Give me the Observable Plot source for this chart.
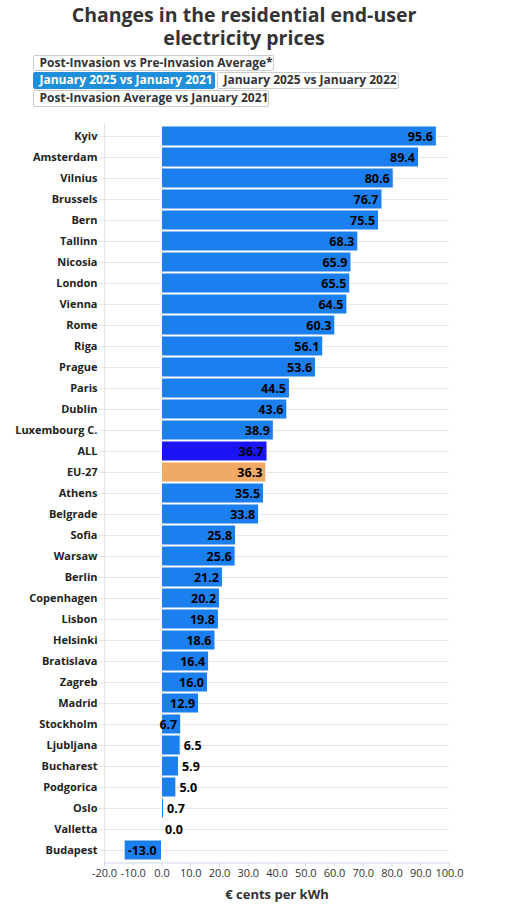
<!DOCTYPE html>
<html>
<head>
<meta charset="utf-8">
<script src="https://cdn.jsdelivr.net/npm/d3@7"></script>
<script src="https://cdn.jsdelivr.net/npm/@observablehq/plot@0.6"></script>
<style>
  html, body { margin: 0; padding: 0; background: white; }
  #wrap { position: relative; width: 510px; height: 909px; font-family: 'Open Sans', sans-serif; }
  .tline { position: absolute; left: 0; width: 488px; text-align: center; font-weight: bold; font-size: 19.5px; line-height: 22px; height: 22px; color: #333; white-space: nowrap; }
  .btn { position: absolute; box-sizing: border-box; height: 16.5px; border: 1px solid #cccccc; border-radius: 2px; background: white; color: #333; font-weight: bold; font-size: 12px; line-height: 14.5px; padding-left: 6px; white-space: nowrap; }
  .btn.sel { background: #1f8fdc; border-color: #1f8fdc; color: white; }
  #chart { position: absolute; left: 0; top: 112px; }
</style>
</head>
<body>
<div id="wrap">
  <div id="title"></div>
  <div id="buttons"></div>
  <div id="chart"></div>
</div>
<script>
const cities = ["Kyiv","Amsterdam","Vilnius","Brussels","Bern","Tallinn","Nicosia","London","Vienna","Rome","Riga","Prague","Paris","Dublin","Luxembourg C.","ALL","EU-27","Athens","Belgrade","Sofia","Warsaw","Berlin","Copenhagen","Lisbon","Helsinki","Bratislava","Zagreb","Madrid","Stockholm","Ljubljana","Bucharest","Podgorica","Oslo","Valletta","Budapest"];
const values = [95.6,89.4,80.6,76.7,75.5,68.3,65.9,65.5,64.5,60.3,56.1,53.6,44.5,43.6,38.9,36.7,36.3,35.5,33.8,25.8,25.6,21.2,20.2,19.8,18.6,16.4,16.0,12.9,6.7,6.5,5.9,5.0,0.7,0.0,-13.0];
const xTicks = [-20,-10,0,10,20,30,40,50,60,70,80,90,100];
const buttonLabels = ["Post-Invasion vs Pre-Invasion Average*","January 2025 vs January 2021","January 2025 vs January 2022","Post-Invasion Average vs January 2021"];
const titleLines = ["Changes in the residential end-user", "electricity prices"];
const axisTitle = "€ cents per kWh";

// title (HTML, above the chart)
const tdiv = document.getElementById("title");
titleLines.forEach((t, i) => {
  const l = document.createElement("div");
  l.className = "tline";
  l.style.top = (4 + i * 23) + "px";
  l.textContent = t;
  tdiv.appendChild(l);
});

// buttons (HTML controls above the chart)
const btnBoxes = [
  {left: 32.5, top: 54.5, width: 241, sel: false},
  {left: 32.5, top: 72.3, width: 182.5, sel: true},
  {left: 216.5, top: 72.3, width: 182, sel: false},
  {left: 32.5, top: 90.1, width: 236, sel: false}
];
const bdiv = document.getElementById("buttons");
buttonLabels.forEach((t, i) => {
  const b = document.createElement("div");
  b.className = "btn" + (btnBoxes[i].sel ? " sel" : "");
  b.style.left = btnBoxes[i].left + "px";
  b.style.top = btnBoxes[i].top + "px";
  b.style.width = btnBoxes[i].width + "px";
  b.textContent = t;
  bdiv.appendChild(b);
});

const data = cities.map((c, i) => ({city: c, value: values[i]}));
const colorOf = d => d.city === "ALL" ? "#1a14f6" : d.city === "EU-27" ? "#f0aa66" : "#1b7fef";

const chart = Plot.plot({
  width: 510,
  height: 797,
  marginTop: 11.5,
  marginBottom: 46.5,
  marginLeft: 104,
  marginRight: 61,
  style: {fontFamily: "'Open Sans', sans-serif", fontSize: "11px", color: "#222", background: "white"},
  x: {domain: [-20, 100]},
  y: {domain: cities, padding: 0.05, label: null},
  marks: [
    Plot.gridY({stroke: "#e6e6e6", strokeOpacity: 1}),
    Plot.barX(data, {x: "value", y: "city", fill: colorOf, stroke: "white", strokeWidth: 1}),
    Plot.frame({anchor: "left", stroke: "#e6e6e6"}),
    Plot.frame({anchor: "bottom", stroke: "#ccd6eb"}),
    Plot.axisY({tickSize: 5, tickPadding: 2, stroke: "#e6e6e6", fill: "#222", fontWeight: "bold", fontSize: 11, label: null}),
    Plot.axisX({ticks: xTicks, tickFormat: d => d.toFixed(1), tickSize: 4, tickPadding: 2, stroke: "#ccd6eb", fill: "#333", fontSize: 11, label: null}),
    Plot.text(data.filter(d => d.value >= 6.6), {x: "value", y: "city", text: d => d.value.toFixed(1), textAnchor: "end", dx: -4, fontWeight: "bold", fontSize: 12.5, fill: "black"}),
    Plot.text(data.filter(d => d.value >= 0 && d.value < 6.6), {x: "value", y: "city", text: d => d.value.toFixed(1), textAnchor: "start", dx: 3, fontWeight: "bold", fontSize: 12.5, fill: "black"}),
    Plot.text(data.filter(d => d.value < 0), {x: "value", y: "city", text: d => d.value.toFixed(1), textAnchor: "start", dx: 3, fontWeight: "bold", fontSize: 12.5, fill: "black"}),
    Plot.text([axisTitle], {frameAnchor: "bottom", dy: 35.5, fontWeight: "bold", fontSize: 13, fill: "#333"})
  ]
});
document.getElementById("chart").appendChild(chart);
</script>
</body>
</html>
